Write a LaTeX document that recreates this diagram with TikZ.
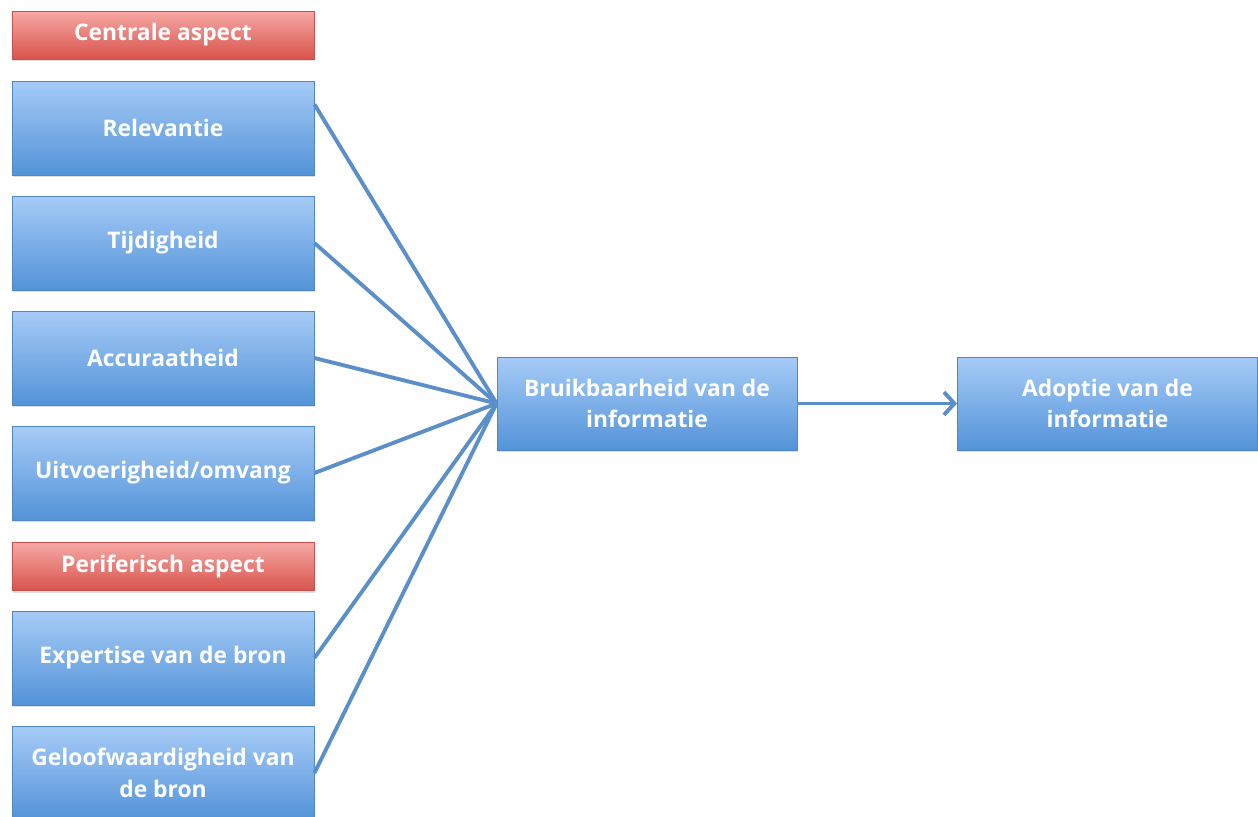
\documentclass[tikz,border=0pt]{standalone}
\usepackage{fontspec}
\setmainfont{Open Sans}
\usetikzlibrary{positioning, calc, arrows.meta, shadows}

\definecolor{boxtop}{HTML}{A6CBF7}
\definecolor{boxbot}{HTML}{5393D8}
\definecolor{boxline}{HTML}{4F86C6}
\definecolor{redtop}{HTML}{F6A8A4}
\definecolor{redbot}{HTML}{D9534C}
\definecolor{redline}{HTML}{C9504B}
\definecolor{linkcol}{HTML}{5B8FC9}

\begin{document}
\begin{tikzpicture}[
    x=0.02cm, y=-0.02cm,
    factor/.style={rectangle, draw=boxline, line width=0.5pt, top color=boxtop, bottom color=boxbot,
        minimum width=6.04cm, minimum height=1.88cm, text=white, align=center,
        font=\bfseries\fontsize{13}{18}\selectfont,
        drop shadow={opacity=0.25, shadow xshift=0.4pt, shadow yshift=-1.2pt}},
    aspect/.style={factor, draw=redline, top color=redtop, bottom color=redbot, minimum height=0.96cm},
    link/.style={draw=linkcol, line width=2.2pt}
]
    \useasboundingbox (0,0) rectangle (1258,816);

    % Centrale aspect
    \node[aspect] (centraal) at (163,35) {Centrale aspect};
    \node[factor] (rel) at (163,128) {Relevantie};
    \node[factor] (tijd) at (163,243) {Tijdigheid};
    \node[factor] (acc) at (163,358) {Accuraatheid};
    \node[factor] (uitv) at (163,473) {Uitvoerigheid/omvang};

    % Periferisch aspect
    \node[aspect] (perifeer) at (163,566.5) {Periferisch aspect};
    \node[factor] (exp) at (163,658) {Expertise van de bron};
    \node[factor] (geloof) at (163,773) {Geloofwaardigheid van\\de bron};

    % Bruikbaarheid en adoptie
    \node[factor, minimum width=6cm, minimum height=1.86cm] (bruik) at (647,403.5) {Bruikbaarheid van de\\informatie};
    \node[factor, minimum width=6cm, minimum height=1.86cm] (adoptie) at (1107.5,403.5) {Adoptie van de\\informatie};

    \draw[link] ($(rel.north east)!0.25!(rel.south east)$) -- (bruik.west);
    \foreach \src in {tijd, acc, uitv, exp, geloof}
        \draw[link] (\src.east) -- (bruik.west);
    \draw[link, -{Straight Barb[length=6pt, width=13pt]}] (bruik) -- (adoptie);
\end{tikzpicture}
\end{document}
